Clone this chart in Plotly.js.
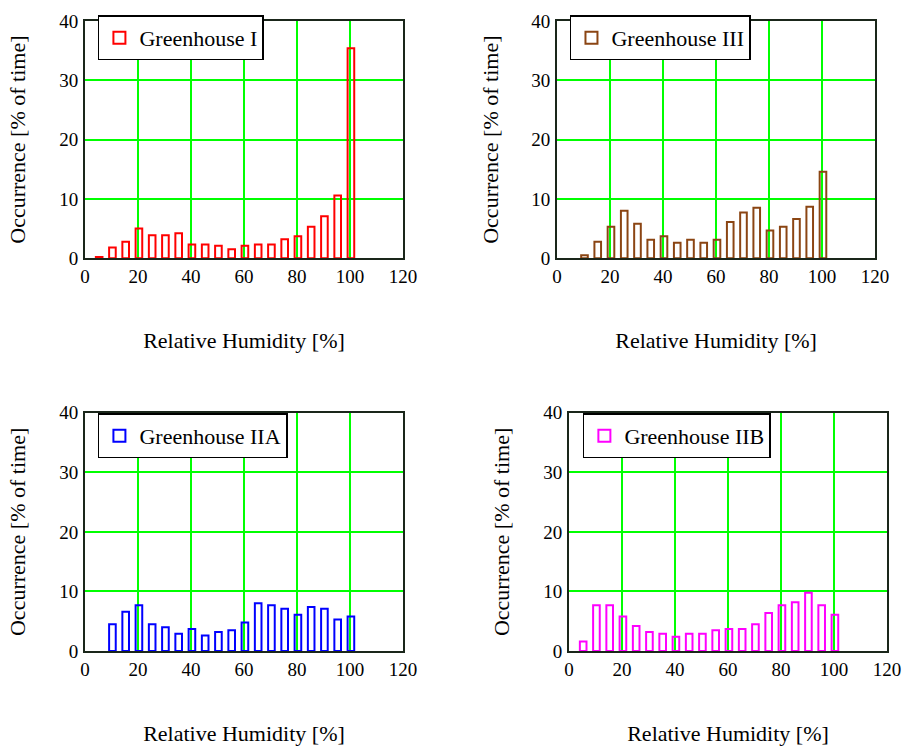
<!DOCTYPE html>
<html>
<head>
<meta charset="utf-8">
<script src="https://cdn.plot.ly/plotly-3.0.1.min.js"></script>
<style>html,body{margin:0;padding:0;background:#fff;}#chart{width:912px;height:753px;}</style>
</head>
<body>
<div id="chart"></div>
<script>
// Relative humidity bins (%)
var rhBins = [5, 10, 15, 20, 25, 30, 35, 40, 45, 50, 55, 60, 65, 70, 75, 80, 85, 90, 95, 100];

// Occurrence (% of time) per greenhouse
var ghI   = [0.2, 1.8, 2.8, 5.0, 3.9, 3.9, 4.2, 2.3, 2.3, 2.1, 1.5, 2.1, 2.3, 2.3, 3.2, 3.7, 5.3, 7.1, 10.6, 35.4];
var ghIII = [null, 0.5, 2.8, 5.3, 8.0, 5.8, 3.1, 3.7, 2.6, 3.1, 2.6, 3.1, 6.1, 7.7, 8.5, 4.7, 5.3, 6.6, 8.7, 14.6];
var ghIIA = [null, 4.5, 6.6, 7.7, 4.5, 4.0, 2.9, 3.7, 2.6, 3.2, 3.5, 4.8, 8.0, 7.7, 7.1, 6.1, 7.4, 7.1, 5.3, 5.8];
var ghIIB = [1.6, 7.7, 7.7, 5.8, 4.2, 3.2, 2.9, 2.4, 2.9, 2.9, 3.5, 3.7, 3.7, 4.5, 6.4, 7.7, 8.2, 9.8, 7.7, 6.1];

var seriesNames = ['Greenhouse I', 'Greenhouse III', 'Greenhouse IIA', 'Greenhouse IIB'];
var seriesColors = ['#ff0000', '#8b4513', '#0000ff', '#ff00ff'];

var xTitle = 'Relative Humidity [%]';
var yTitle = 'Occurrence [% of time]';

var FONT = '"Liberation Serif", "Times New Roman", serif';

function barTrace(y, i, ax) {
  return {
    type: 'bar',
    x: rhBins,
    y: y,
    name: seriesNames[i],
    xaxis: 'x' + (ax === 1 ? '' : ax),
    yaxis: 'y' + (ax === 1 ? '' : ax),
    legend: 'legend' + (ax === 1 ? '' : ax),
    width: 2.5,
    offset: -0.9,
    marker: {color: 'rgba(0,0,0,0)', line: {color: seriesColors[i], width: 2}},
    showlegend: true,
    hoverinfo: 'x+y'
  };
}

var data = [
  barTrace(ghI, 0, 1),
  barTrace(ghIII, 1, 2),
  barTrace(ghIIA, 2, 3),
  barTrace(ghIIB, 3, 4)
];

function xAxis(domain, anchor) {
  return {
    domain: domain, anchor: anchor, range: [0, 120], dtick: 20, tick0: 0,
    showgrid: true, gridcolor: '#00ff00', gridwidth: 2,
    zeroline: false, showline: true, mirror: true, linecolor: '#1a261a', linewidth: 2,
    ticks: '', ticklabelstandoff: 0,
    tickfont: {family: FONT, size: 19, color: '#000'},
    automargin: true,
    title: {text: xTitle, font: {family: FONT, size: 22, color: '#000'}, standoff: 47}
  };
}
function yAxis(domain, anchor) {
  return {
    domain: domain, anchor: anchor, range: [0, 40], dtick: 10, tick0: 0,
    showgrid: true, gridcolor: '#00ff00', gridwidth: 2,
    zeroline: false, showline: true, mirror: true, linecolor: '#1a261a', linewidth: 2,
    ticks: '', ticklabelstandoff: 1,
    tickfont: {family: FONT, size: 19, color: '#000'},
    automargin: true,
    title: {text: yTitle, font: {family: FONT, size: 22, color: '#000'}, standoff: 27}
  };
}
function legendAt(x, y) {
  return {
    x: x, y: y, xanchor: 'left', yanchor: 'top',
    bgcolor: '#ffffff', bordercolor: '#000000', borderwidth: 1.5,
    font: {family: FONT, size: 22, color: '#000'},
    itemclick: false, itemdoubleclick: false
  };
}

var topY = [0.6234, 1.0];
var botY = [0.0, 0.3781];

var layout = {
  width: 912, height: 753,
  margin: {l: 85, r: 20, t: 11, b: 102},
  paper_bgcolor: '#ffffff', plot_bgcolor: '#ffffff',
  font: {family: FONT, color: '#000'},
  bargap: 0,
  xaxis: xAxis([0, 0.3965], 'y'),
  yaxis: yAxis(topY, 'x'),
  xaxis2: xAxis([0.5886, 0.9851], 'y2'),
  yaxis2: yAxis(topY, 'x2'),
  xaxis3: xAxis([0, 0.3965], 'y3'),
  yaxis3: yAxis(botY, 'x3'),
  xaxis4: xAxis([0.6035, 1.0], 'y4'),
  yaxis4: yAxis(botY, 'x4'),
  legend: legendAt(0.0161, 1.009),
  legend2: legendAt(0.6047, 1.009),
  legend3: legendAt(0.0161, 0.377),
  legend4: legendAt(0.6208, 0.377)
};

Plotly.newPlot('chart', data, layout, {staticPlot: true, displayModeBar: false});
</script>
</body>
</html>
